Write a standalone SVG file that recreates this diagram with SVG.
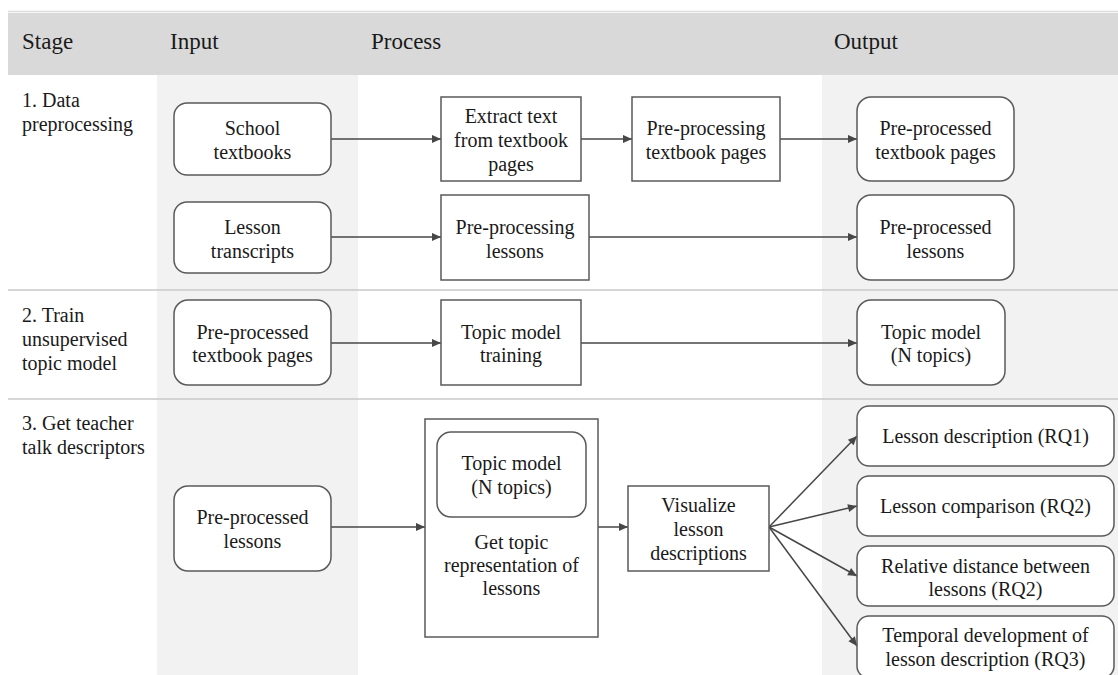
<svg xmlns="http://www.w3.org/2000/svg" width="1118" height="675" viewBox="0 0 1118 675">
<style>
text{font-family:'Liberation Serif','DejaVu Serif',Tinos,serif;font-size:20px;fill:#1a1a1a}
.hd{font-size:23px}
.c{text-anchor:middle}
.box{fill:#fff;stroke:#5a5a5a;stroke-width:1.5}
.sep{stroke:#c8c8c8;stroke-width:1.5}
.conn line{stroke:#474747;stroke-width:1.5;marker-end:url(#ah)}
</style>
<defs>
<marker id="ah" viewBox="0 0 10 10" refX="10" refY="5" markerWidth="11" markerHeight="9" markerUnits="userSpaceOnUse" orient="auto">
<path d="M0,0.5 L10,5 L0,9.5 Z" fill="#474747"/>
</marker>
</defs>
<rect x="0" y="0" width="1118" height="675" fill="#fff"/>
<g id="background">
<line x1="8" y1="11.5" x2="1118" y2="11.5" stroke="#dcdcdc" stroke-width="1.5"/>
<rect x="8" y="13" width="1110" height="62" fill="#d9d9d9"/>
<rect x="157" y="75" width="201" height="600" fill="#f2f2f2"/>
<rect x="822" y="75" width="296" height="600" fill="#f2f2f2"/>
<line class="sep" x1="8" y1="290" x2="1118" y2="290"/>
<line class="sep" x1="8" y1="399" x2="1118" y2="399"/>
</g>
<g id="header" font-family="Liberation Serif, serif">
<text class="hd" x="22" y="49">Stage</text>
<text class="hd" x="170" y="49">Input</text>
<text class="hd" x="371" y="49">Process</text>
<text class="hd" x="834" y="49">Output</text>
</g>
<g id="stages">
<text x="22" y="107">1. Data</text>
<text x="22" y="131">preprocessing</text>
<text x="22" y="322">2. Train</text>
<text x="22" y="346">unsupervised</text>
<text x="22" y="370">topic model</text>
<text x="22" y="430">3. Get teacher</text>
<text x="22" y="454">talk descriptors</text>
</g>
<g id="connectors" class="conn">
<line x1="331" y1="139" x2="441" y2="139"/>
<line x1="581" y1="139" x2="632" y2="139"/>
<line x1="780" y1="139" x2="857" y2="139"/>
<line x1="331" y1="237" x2="441" y2="237"/>
<line x1="589" y1="237" x2="857" y2="237"/>
<line x1="331" y1="343" x2="441" y2="343"/>
<line x1="581" y1="343" x2="857" y2="343"/>
<line x1="331" y1="527" x2="425" y2="527"/>
<line x1="598" y1="527" x2="628" y2="527"/>
<line x1="769" y1="527" x2="857" y2="436"/>
<line x1="769" y1="527" x2="857" y2="506"/>
<line x1="769" y1="527" x2="857" y2="576"/>
<line x1="769" y1="527" x2="857" y2="646"/>
</g>
<g id="school-textbooks">
<rect class="box" x="174" y="103" width="157" height="72" rx="13"/>
<text class="c" x="252.5" y="135">School</text>
<text class="c" x="252.5" y="159">textbooks</text>
</g>
<g id="extract-text">
<rect class="box" x="441" y="97" width="140" height="84"/>
<text class="c" x="511" y="123">Extract text</text>
<text class="c" x="511" y="147">from textbook</text>
<text class="c" x="511" y="171">pages</text>
</g>
<g id="preprocessing-textbook">
<rect class="box" x="632" y="97" width="148" height="84"/>
<text class="c" x="706" y="135">Pre-processing</text>
<text class="c" x="706" y="159">textbook pages</text>
</g>
<g id="out-textbook">
<rect class="box" x="857" y="97" width="157" height="84" rx="14"/>
<text class="c" x="935.5" y="135">Pre-processed</text>
<text class="c" x="935.5" y="159">textbook pages</text>
</g>
<g id="lesson-transcripts">
<rect class="box" x="174" y="202" width="157" height="71" rx="13"/>
<text class="c" x="252.5" y="234">Lesson</text>
<text class="c" x="252.5" y="258">transcripts</text>
</g>
<g id="preprocessing-lessons">
<rect class="box" x="441" y="195" width="148" height="85"/>
<text class="c" x="515" y="234">Pre-processing</text>
<text class="c" x="515" y="258">lessons</text>
</g>
<g id="out-lessons">
<rect class="box" x="857" y="195" width="157" height="85" rx="14"/>
<text class="c" x="935.5" y="234">Pre-processed</text>
<text class="c" x="935.5" y="258">lessons</text>
</g>
<g id="in-textbook-2">
<rect class="box" x="174" y="300" width="157" height="85" rx="14"/>
<text class="c" x="252.5" y="339">Pre-processed</text>
<text class="c" x="252.5" y="362">textbook pages</text>
</g>
<g id="topic-model-training">
<rect class="box" x="441" y="300" width="140" height="85"/>
<text class="c" x="511" y="339">Topic model</text>
<text class="c" x="511" y="362">training</text>
</g>
<g id="topic-model-out">
<rect class="box" x="857" y="300" width="148" height="85" rx="14"/>
<text class="c" x="931" y="339">Topic model</text>
<text class="c" x="931" y="362">(N topics)</text>
</g>
<g id="in-lessons-3">
<rect class="box" x="174" y="486" width="157" height="85" rx="14"/>
<text class="c" x="252.5" y="524">Pre-processed</text>
<text class="c" x="252.5" y="548">lessons</text>
</g>
<g id="get-topic-representation">
<rect class="box" x="425" y="419" width="173" height="218"/>
<rect class="box" x="437" y="432" width="149" height="85" rx="14"/>
<text class="c" x="511.5" y="470">Topic model</text>
<text class="c" x="511.5" y="494">(N topics)</text>
<text class="c" x="511.5" y="549">Get topic</text>
<text class="c" x="511.5" y="572">representation of</text>
<text class="c" x="511.5" y="595">lessons</text>
</g>
<g id="visualize">
<rect class="box" x="628" y="486" width="141" height="85"/>
<text class="c" x="698.5" y="512">Visualize</text>
<text class="c" x="698.5" y="536">lesson</text>
<text class="c" x="698.5" y="560">descriptions</text>
</g>
<g id="rq1">
<rect class="box" x="857" y="406" width="257" height="60" rx="12"/>
<text class="c" x="985.5" y="443">Lesson description (RQ1)</text>
</g>
<g id="rq2">
<rect class="box" x="857" y="476" width="257" height="60" rx="12"/>
<text class="c" x="985.5" y="513">Lesson comparison (RQ2)</text>
</g>
<g id="rq2b">
<rect class="box" x="857" y="546" width="257" height="60" rx="12"/>
<text class="c" x="985.5" y="573">Relative distance between</text>
<text class="c" x="985.5" y="596">lessons (RQ2)</text>
</g>
<g id="rq3">
<rect class="box" x="857" y="616" width="257" height="62" rx="12"/>
<text class="c" x="985.5" y="642">Temporal development of</text>
<text class="c" x="985.5" y="666">lesson description (RQ3)</text>
</g>
</svg>
